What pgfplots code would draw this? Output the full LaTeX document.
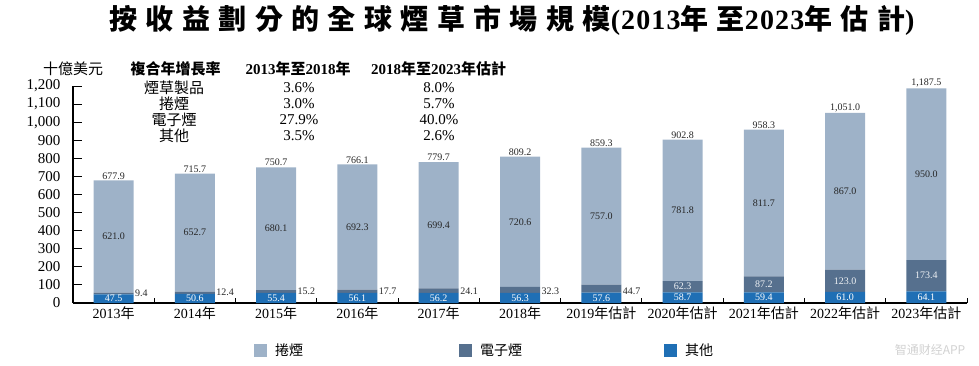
\documentclass[border=0pt]{standalone}
\usepackage{fontspec}
\setmainfont{Liberation Serif}
\newfontfamily\cjk{Noto Sans CJK TC}
\newfontfamily\cjksc{Noto Sans CJK SC}
\newfontfamily\titlecjk[LetterSpace=30]{Noto Sans CJK TC}
\newfontfamily\titlenum[LetterSpace=4]{Liberation Serif}
\usepackage{pgfplots}
\usepackage{pgfplotstable}
\pgfplotsset{compat=1.18}
\newcommand\C[1]{{\cjk #1}}
\definecolor{cCig}{RGB}{158,178,200}
\definecolor{cEcig}{RGB}{86,112,142}
\definecolor{cOther}{RGB}{31,111,181}
\pgfplotsset{sqlegend/.style={legend image code/.code={\fill[##1] (0pt,-6.5pt) rectangle (13pt,6.5pt);}}}

\pgfplotstableread{
x other ecig cig
0 47.5 9.4 621.0
1 50.6 12.4 652.7
2 55.4 15.2 680.1
3 56.1 17.7 692.3
4 56.2 24.1 699.4
5 56.3 32.3 720.6
6 57.6 44.7 757.0
7 58.7 62.3 781.8
8 59.4 87.2 811.7
9 61.0 123.0 867.0
10 64.1 173.4 950.0
}\data

\pgfplotstableread{
x y l
0 677.9 677.9
1 715.7 715.7
2 750.7 750.7
3 766.1 766.1
4 779.7 779.7
5 809.2 809.2
6 859.3 859.3
7 902.8 902.8
8 958.3 958.3
9 1051.0 {1,051.0}
10 1187.5 {1,187.5}
}\totals

\pgfplotstableread{
x y l
0 367.4 621.0
1 389.35 652.7
2 410.65 680.1
3 419.95 692.3
4 430.0 699.4
5 448.9 720.6
6 480.8 757.0
7 511.9 781.8
8 552.45 811.7
9 617.5 867.0
10 712.5 950.0
}\ciglab

\pgfplotstableread{
x y l
0 23.75 47.5
1 25.3 50.6
2 27.7 55.4
3 28.05 56.1
4 28.1 56.2
5 28.15 56.3
6 28.8 57.6
7 29.35 58.7
8 29.7 59.4
9 30.5 61.0
10 32.05 64.1
}\othlab

\pgfplotstableread{
x y l
7 89.85 62.3
8 103.0 87.2
9 122.5 123.0
10 150.8 173.4
}\ecigin

\pgfplotstableread{
x y l
0.25 55.5 9.4
1.25 58.6 12.4
2.25 63.4 15.2
3.25 64.1 17.7
4.25 64.2 24.1
5.25 64.3 32.3
6.25 65.6 44.7
}\ecigout

\begin{document}
\begin{tikzpicture}[x=1pt,y=1pt]
\path[use as bounding box] (0,0) rectangle (979,365);

% title
\node at (512,345) {\fontsize{28}{30}\selectfont\bfseries{\titlecjk 按收益劃分的全球煙草市場規模}{\titlenum (2013}{\titlecjk 年至}{\titlenum 2023}{\titlecjk 年估計}{\titlenum )}};

% header / CAGR table
\begin{scope}[every node/.style={font=\fontsize{15}{16}\selectfont, inner sep=0pt}]
\node at (73,296) {\C{十億美元}};
\node at (175.5,296) {\bfseries\C{複合年增長率}};
\node at (298,296) {\bfseries 2013\C{年至}2018\C{年}};
\node at (438.5,296) {\bfseries 2018\C{年至}2023\C{年估計}};
\node at (174,277) {\C{煙草製品}};
\node at (174,261) {\C{捲煙}};
\node at (174,245) {\C{電子煙}};
\node at (174,229) {\C{其他}};
\node at (299,277) {3.6\%};
\node at (299,261) {3.0\%};
\node at (299,245) {27.9\%};
\node at (299,229) {3.5\%};
\node at (439,277) {8.0\%};
\node at (439,261) {5.7\%};
\node at (439,245) {40.0\%};
\node at (439,229) {2.6\%};
\end{scope}

\begin{axis}[
  at={(73pt,62pt)}, anchor=south west,
  scale only axis, width=894pt, height=217pt,
  xmin=-0.5, xmax=10.5, ymin=0, ymax=1200,
  ybar stacked, bar width=40pt,
  axis lines*=left,
  axis line style={line width=1.2pt, black},
  tick align=inside,
  major tick length=9pt, minor tick length=5pt,
  tick style={black, line width=1pt},
  ytick={0,100,...,1200},
  xtick={0,...,10},
  xticklabels={2013\C{年},2014\C{年},2015\C{年},2016\C{年},2017\C{年},2018\C{年},2019\C{年估計},2020\C{年估計},2021\C{年估計},2022\C{年估計},2023\C{年估計}},
  major x tick style={draw=none},
  minor xtick={0.5,1.5,...,10.5},
  /pgf/number format/assume math mode=true,
  /pgf/number format/1000 sep={,},
  yticklabel style={font=\fontsize{15}{15}\selectfont, xshift=-9pt},
  xticklabel style={font=\fontsize{14}{14}\selectfont},
  clip=false,
  reverse legend,
  legend columns=3,
  legend style={at={(0.2025,-0.2166)}, anchor=west, draw=none, fill=none, inner sep=0pt,
    font=\fontsize{14}{14}\selectfont, /tikz/every even column/.append style={column sep=0pt}},
]
\addplot[fill=cOther, draw=none, sqlegend] table[x=x,y=other]{\data};
\addlegendentry{\makebox[188pt][l]{\hspace*{6pt}\C{其他}}}
\addplot[fill=cEcig, draw=none, sqlegend] table[x=x,y=ecig]{\data};
\addlegendentry{\makebox[188pt][l]{\hspace*{6pt}\C{電子煙}}}
\addplot[fill=cCig, draw=none, sqlegend] table[x=x,y=cig]{\data};
\addlegendentry{\makebox[188pt][l]{\hspace*{6pt}\C{捲煙}}}
\end{axis}

\begin{axis}[
  at={(73pt,62pt)}, anchor=south west,
  scale only axis, width=894pt, height=217pt,
  xmin=-0.5, xmax=10.5, ymin=0, ymax=1200,
  hide axis, clip=false,
  nodes near coords, point meta=explicit symbolic,
  every node near coord/.append style={font=\fontsize{10}{10}\selectfont, inner sep=1pt},
]
\addplot[draw=none, mark=none, every node near coord/.append style={anchor=south, text=black!85}] table[x=x,y=y,meta=l]{\totals};
\addplot[draw=none, mark=none, every node near coord/.append style={anchor=center, text=black!85}] table[x=x,y=y,meta=l]{\ciglab};
\addplot[draw=none, mark=none, every node near coord/.append style={anchor=center, text=white}] table[x=x,y=y,meta=l]{\othlab};
\addplot[draw=none, mark=none, every node near coord/.append style={anchor=center, text=white!90!cEcig}] table[x=x,y=y,meta=l]{\ecigin};
\addplot[draw=none, mark=none, every node near coord/.append style={anchor=west, text=black!85}] table[x=x,y=y,meta=l]{\ecigout};
\end{axis}

\node[font=\fontsize{12}{12}\selectfont, text=black!18] at (930,15) {\cjksc 智通财经APP};
\end{tikzpicture}
\end{document}
